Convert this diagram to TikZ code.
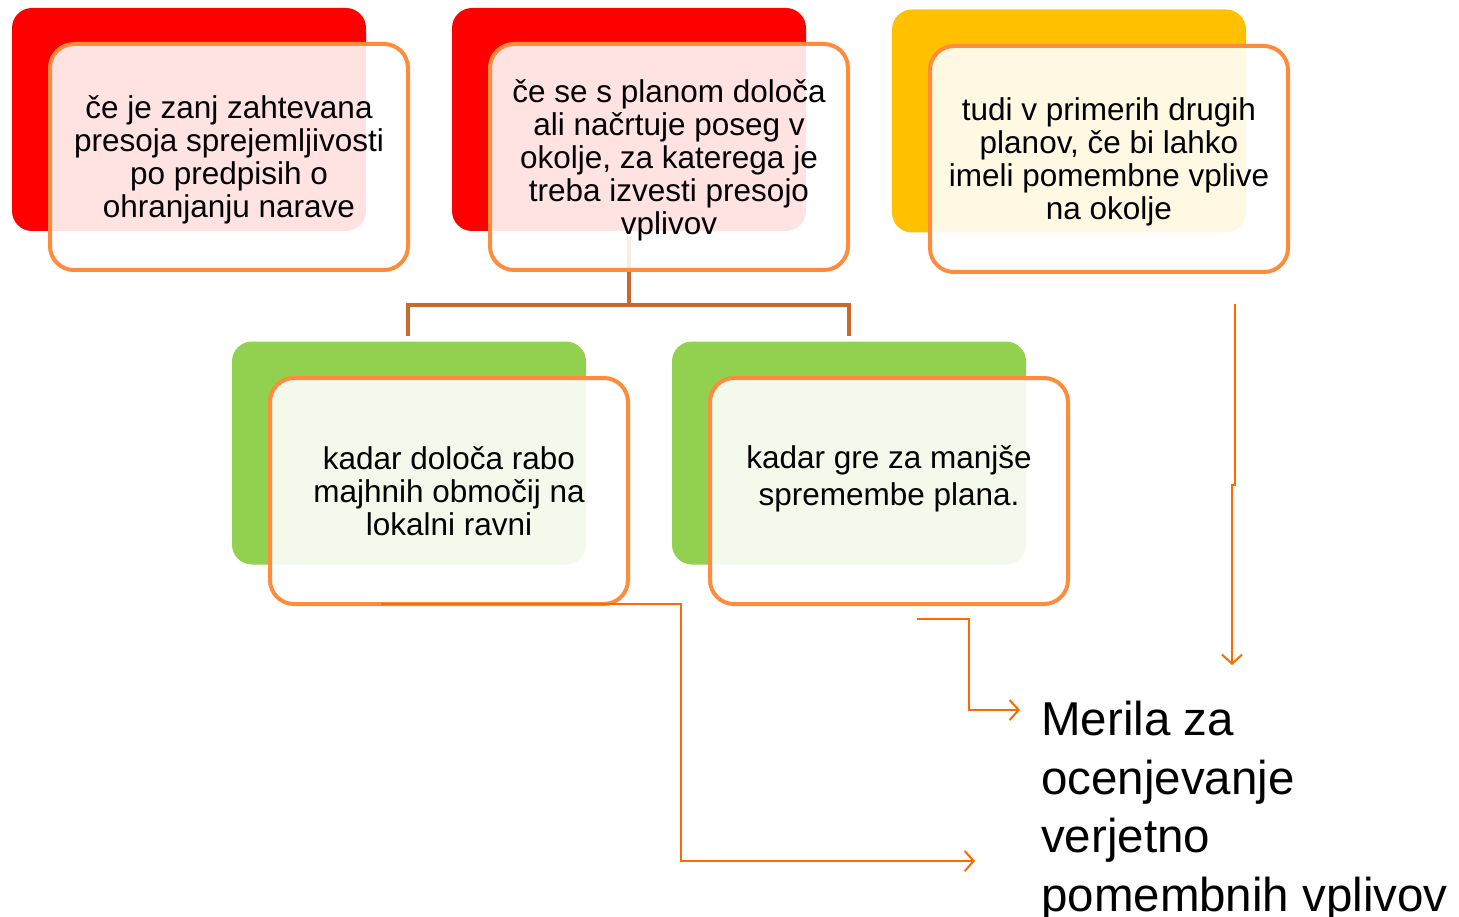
\documentclass[tikz,border=0pt]{standalone}
\usepackage{fontspec}
\setmainfont{Liberation Sans}
\usetikzlibrary{arrows.meta}
\definecolor{cRed}{HTML}{FF0000}
\definecolor{cYel}{HTML}{FFC000}
\definecolor{cGrn}{HTML}{92D050}
\definecolor{cBord}{HTML}{FF8B3D}
\definecolor{cTree}{HTML}{C86A2E}
\definecolor{cArr}{HTML}{FF6A00}
\tikzset{
  backbox/.style={rectangle,rounded corners=20pt,minimum width=354pt,minimum height=223pt,inner sep=0pt,draw=none},
  frontbox/.style={rectangle,rounded corners=24pt,minimum width=358pt,minimum height=226pt,inner sep=0pt,
     draw=cBord,line width=4pt,fill=white,fill opacity=0.89},
  boxtext/.style={align=center,inner sep=0pt,font=\fontsize{31.5}{33}\selectfont},
  tree/.style={draw=cTree,line width=4pt},
  conn/.style={draw=cArr,line width=2pt,-{Straight Barb[length=9pt,width=20pt,line width=2pt]}},
}
\begin{document}
\begin{tikzpicture}[x=1pt,y=-1pt]
\useasboundingbox (0,0) rectangle (1459,917);
% back boxes
\node[backbox,fill=cRed] (b1) at (189,119.5) {};
\node[backbox,fill=cRed] (b2) at (629,119.5) {};
\node[backbox,fill=cYel] (b3) at (1069,121) {};
\node[backbox,fill=cGrn] (b4) at (409,453) {};
\node[backbox,fill=cGrn] (b5) at (849,453) {};
% tree connector (beneath front boxes)
\coordinate (ts) at (629,237);
\coordinate (tj) at (629,305);
\coordinate (tl) at (408,336);
\coordinate (tr) at (849,336);
\draw[tree] (ts) -- (tj);
\draw[tree] (tl) -- (tl|-tj) -- (tr|-tj) -- (tr);
% front boxes
\node[frontbox] (f1) at (229,157) {};
\node[frontbox] (f2) at (669,157) {};
\node[frontbox] (f3) at (1109,159) {};
\node[frontbox] (f4) at (449,491) {};
\node[frontbox] (f5) at (889,491) {};
% texts
\node[boxtext] (t1) at ([yshift=-3pt]f1.center) {če je zanj zahtevana\\presoja sprejemljivosti\\po predpisih o\\ohranjanju narave};
\node[boxtext] (t2) at ([yshift=-3pt]f2.center) {če se s planom določa\\ali načrtuje poseg v\\okolje, za katerega je\\treba izvesti presojo\\vplivov};
\node[boxtext] (t3) at ([yshift=-3pt]f3.center) {tudi v primerih drugih\\planov, če bi lahko\\imeli pomembne vplive\\na okolje};
\node[boxtext] (t4) at (f4.center) {kadar določa rabo\\majhnih območij na\\lokalni ravni};
\node[boxtext,anchor=north,font=\fontsize{31.5}{37}\selectfont] (t5) at (889,445) {kadar gre za manjše\\spremembe plana.};
% target text
\node[anchor=base west,align=left,inner sep=0pt,font=\fontsize{47.5}{58.5}\selectfont] (m) at (1041,911)
  {Merila za\\ocenjevanje\\verjetno\\pomembnih vplivov};
% orange connectors
\coordinate (a1s) at (381,604);
\coordinate (a1k) at (681,604);
\coordinate (a1e) at (975,861);
\draw[conn] (a1s) -- (a1k) |- (a1e);
\coordinate (a2s) at (917,619);
\coordinate (a2k) at (969,619);
\coordinate (a2e) at (1020,710);
\draw[conn] (a2s) -- (a2k) |- (a2e);
\coordinate (a3s) at (1235,304);
\coordinate (a3k) at (1235,485);
\coordinate (a3j) at (1232,485);
\coordinate (a3e) at (1232,665);
\draw[conn] (a3s) -- (a3k) -- (a3j) -- (a3e);
\end{tikzpicture}
\end{document}
